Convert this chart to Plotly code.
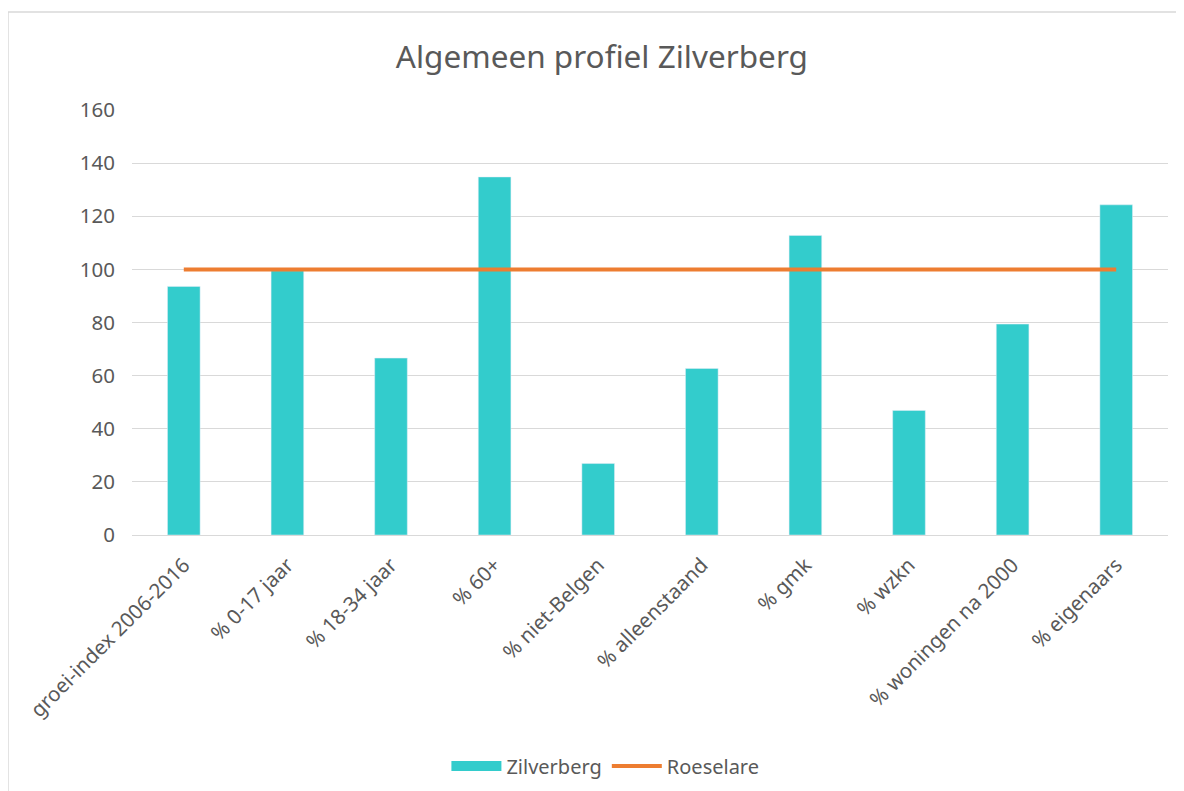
import plotly.graph_objects as go

categories = ["groei-index 2006-2016", "% 0-17 jaar", "% 18-34 jaar", "% 60+",
              "% niet-Belgen", "% alleenstaand", "% gmk", "% wzkn",
              "% woningen na 2000", "% eigenaars"]
zilverberg = [93.6, 99.5, 66.6, 134.8, 26.9, 62.7, 112.8, 46.9, 79.4, 124.3]
roeselare = [100, 100, 100, 100, 100, 100, 100, 100, 100, 100]
y_ticks = [0, 20, 40, 60, 80, 100, 120, 140, 160]

TXT = "#595959"
FONT = "Noto Sans"
TEAL = "#33CCCC"
ORANGE = "#ED7D31"

fig = go.Figure()
fig.add_trace(go.Bar(x=categories, y=zilverberg, name="Zilverberg",
                     marker=dict(color=TEAL), showlegend=False, legendgroup="z"))
# legend entry drawn as a wide teal swatch (Excel style)
fig.add_trace(go.Scatter(x=[None], y=[None], name="Zilverberg", mode="lines",
                         line=dict(color=TEAL, width=12), legendgroup="z"))
fig.add_trace(go.Scatter(x=categories, y=roeselare, name="Roeselare", mode="lines",
                         line=dict(color=ORANGE, width=4)))

fig.update_layout(
    width=1176, height=783,
    margin=dict(l=124, r=16, t=102, b=256, autoexpand=False),
    paper_bgcolor="white", plot_bgcolor="white",
    font=dict(family=FONT, color=TXT, size=20),
    title=dict(text="Algemeen profiel Zilverberg", x=0.505, xanchor="center",
               y=0.938, yanchor="middle", font=dict(size=31.5, color=TXT, family=FONT)),
    bargap=0.685,
    showlegend=True,
    legend=dict(orientation="h", xref="container", yref="container",
                x=0.508, xanchor="center", y=0.032, yanchor="middle",
                font=dict(size=20, color=TXT), traceorder="normal", itemwidth=50),
    shapes=[dict(type="rect", xref="paper", yref="paper",
                 x0=-0.1197, x1=1.03, y0=-0.7, y1=1.2306,
                 line=dict(color="#D9D9D9", width=1.5), fillcolor="rgba(0,0,0,0)",
                 layer="below")],
)
fig.update_xaxes(tickangle=-45, tickfont=dict(size=20.5, color=TXT), showgrid=False,
                 showline=True, linecolor="#D9D9D9", linewidth=1, ticks="",
                 ticklabelstandoff=9, automargin=False)
fig.update_yaxes(range=[0, 160], tickvals=y_ticks, showgrid=True, gridcolor="#D9D9D9",
                 gridwidth=1, zeroline=False, showline=False, automargin=False,
                 tickfont=dict(size=20.5, color=TXT), ticklabelstandoff=16)

fig.write_html("out.html")
